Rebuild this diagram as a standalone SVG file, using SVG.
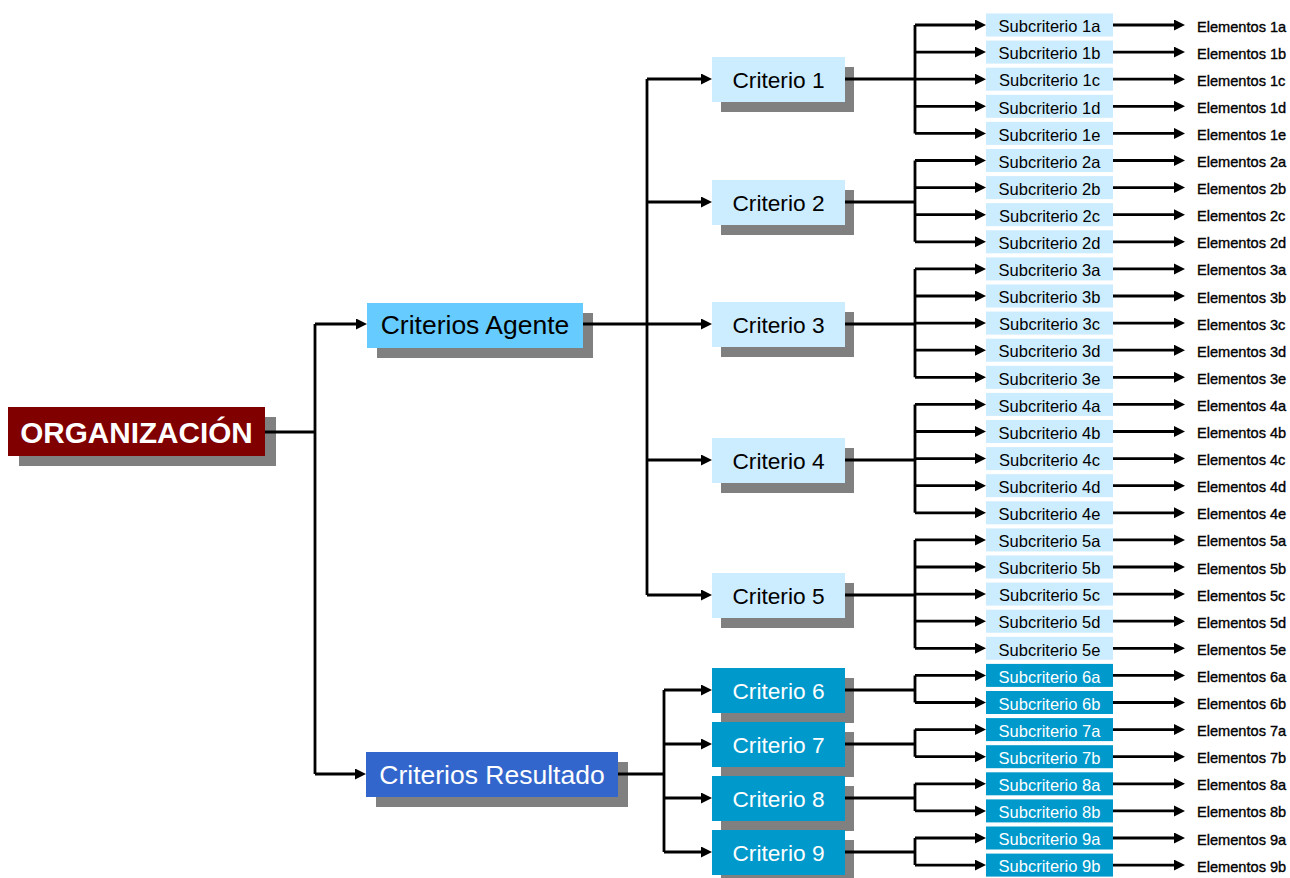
<svg xmlns="http://www.w3.org/2000/svg" width="1290" height="878" viewBox="0 0 1290 878">
<style>
text{font-family:"Liberation Sans",Arial,sans-serif;}
.sh{fill:#808080;}
.c1{fill:#CCECFF;}
.c2{fill:#0099CC;}
.ct{font-size:22.7px;text-anchor:middle;fill:#000;}
.ctw{font-size:22.7px;text-anchor:middle;fill:#fff;}
.st{font-size:16.5px;text-anchor:middle;fill:#000;}
.stw{font-size:16.5px;text-anchor:middle;fill:#fff;}
.et{font-size:14.6px;fill:#000;stroke:#000;stroke-width:0.35;}
.ln{fill:none;stroke:#000;stroke-width:2.8;}
.ar{fill:none;stroke:#000;stroke-width:2.8;marker-end:url(#ah);}
</style>
<defs>
<marker id="ah" markerUnits="userSpaceOnUse" markerWidth="12" markerHeight="12" refX="0" refY="5.5" orient="auto">
<path d="M0,0 L11,5.5 L0,11 Z" fill="#000"/>
</marker>
</defs>
<rect width="1290" height="878" fill="#fff"/>

<g id="organizacion">
<rect class="sh" x="19" y="417" width="257" height="49"/>
<rect x="8" y="407" width="257" height="49" fill="#800000"/>
<text x="136.5" y="442.5" font-size="29.7" font-weight="bold" text-anchor="middle" fill="#fff">ORGANIZACIÓN</text>
</g>
<g id="criterios-agente">
<rect class="sh" x="377" y="313" width="216" height="45"/>
<rect x="367" y="303" width="216" height="45" fill="#66CCFF"/>
<text x="475" y="334" font-size="26.5" text-anchor="middle" fill="#000">Criterios Agente</text>
</g>
<g id="criterios-resultado">
<rect class="sh" x="376" y="762" width="252" height="45"/>
<rect x="366" y="752" width="252" height="45" fill="#3366CC"/>
<text x="492" y="783.5" font-size="26.5" text-anchor="middle" fill="#fff">Criterios Resultado</text>
</g>

<g id="criterio1" transform="translate(0,79)"><rect class="sh" x="721" y="-12" width="133" height="45"/><rect class="c1" x="712" y="-22" width="133" height="45"/><text class="ct" x="778.5" y="8.7">Criterio 1</text></g>
<g id="criterio2" transform="translate(0,202)"><rect class="sh" x="721" y="-12" width="133" height="45"/><rect class="c1" x="712" y="-22" width="133" height="45"/><text class="ct" x="778.5" y="8.7">Criterio 2</text></g>
<g id="criterio3" transform="translate(0,324)"><rect class="sh" x="721" y="-12" width="133" height="45"/><rect class="c1" x="712" y="-22" width="133" height="45"/><text class="ct" x="778.5" y="8.7">Criterio 3</text></g>
<g id="criterio4" transform="translate(0,460)"><rect class="sh" x="721" y="-12" width="133" height="45"/><rect class="c1" x="712" y="-22" width="133" height="45"/><text class="ct" x="778.5" y="8.7">Criterio 4</text></g>
<g id="criterio5" transform="translate(0,595)"><rect class="sh" x="721" y="-12" width="133" height="45"/><rect class="c1" x="712" y="-22" width="133" height="45"/><text class="ct" x="778.5" y="8.7">Criterio 5</text></g>
<g id="criterio6" transform="translate(0,690)"><rect class="sh" x="721" y="-12" width="133" height="45"/><rect class="c2" x="712" y="-22" width="133" height="45"/><text class="ctw" x="778.5" y="8.7">Criterio 6</text></g>
<g id="criterio7" transform="translate(0,744)"><rect class="sh" x="721" y="-12" width="133" height="45"/><rect class="c2" x="712" y="-22" width="133" height="45"/><text class="ctw" x="778.5" y="8.7">Criterio 7</text></g>
<g id="criterio8" transform="translate(0,798)"><rect class="sh" x="721" y="-12" width="133" height="45"/><rect class="c2" x="712" y="-22" width="133" height="45"/><text class="ctw" x="778.5" y="8.7">Criterio 8</text></g>
<g id="criterio9" transform="translate(0,852)"><rect class="sh" x="721" y="-12" width="133" height="45"/><rect class="c2" x="712" y="-22" width="133" height="45"/><text class="ctw" x="778.5" y="8.7">Criterio 9</text></g>

<g id="sub1a" transform="translate(0,25)"><rect class="c1" x="986" y="-11.5" width="127" height="23"/><text class="st" x="1049.5" y="7.2">Subcriterio 1a</text><text class="et" x="1197" y="6.5">Elementos 1a</text></g>
<g id="sub1b" transform="translate(0,52.1)"><rect class="c1" x="986" y="-11.5" width="127" height="23"/><text class="st" x="1049.5" y="7.2">Subcriterio 1b</text><text class="et" x="1197" y="6.5">Elementos 1b</text></g>
<g id="sub1c" transform="translate(0,79.2)"><rect class="c1" x="986" y="-11.5" width="127" height="23"/><text class="st" x="1049.5" y="7.2">Subcriterio 1c</text><text class="et" x="1197" y="6.5">Elementos 1c</text></g>
<g id="sub1d" transform="translate(0,106.3)"><rect class="c1" x="986" y="-11.5" width="127" height="23"/><text class="st" x="1049.5" y="7.2">Subcriterio 1d</text><text class="et" x="1197" y="6.5">Elementos 1d</text></g>
<g id="sub1e" transform="translate(0,133.4)"><rect class="c1" x="986" y="-11.5" width="127" height="23"/><text class="st" x="1049.5" y="7.2">Subcriterio 1e</text><text class="et" x="1197" y="6.5">Elementos 1e</text></g>
<g id="sub2a" transform="translate(0,160.5)"><rect class="c1" x="986" y="-11.5" width="127" height="23"/><text class="st" x="1049.5" y="7.2">Subcriterio 2a</text><text class="et" x="1197" y="6.5">Elementos 2a</text></g>
<g id="sub2b" transform="translate(0,187.6)"><rect class="c1" x="986" y="-11.5" width="127" height="23"/><text class="st" x="1049.5" y="7.2">Subcriterio 2b</text><text class="et" x="1197" y="6.5">Elementos 2b</text></g>
<g id="sub2c" transform="translate(0,214.7)"><rect class="c1" x="986" y="-11.5" width="127" height="23"/><text class="st" x="1049.5" y="7.2">Subcriterio 2c</text><text class="et" x="1197" y="6.5">Elementos 2c</text></g>
<g id="sub2d" transform="translate(0,241.8)"><rect class="c1" x="986" y="-11.5" width="127" height="23"/><text class="st" x="1049.5" y="7.2">Subcriterio 2d</text><text class="et" x="1197" y="6.5">Elementos 2d</text></g>
<g id="sub3a" transform="translate(0,268.9)"><rect class="c1" x="986" y="-11.5" width="127" height="23"/><text class="st" x="1049.5" y="7.2">Subcriterio 3a</text><text class="et" x="1197" y="6.5">Elementos 3a</text></g>
<g id="sub3b" transform="translate(0,296)"><rect class="c1" x="986" y="-11.5" width="127" height="23"/><text class="st" x="1049.5" y="7.2">Subcriterio 3b</text><text class="et" x="1197" y="6.5">Elementos 3b</text></g>
<g id="sub3c" transform="translate(0,323.1)"><rect class="c1" x="986" y="-11.5" width="127" height="23"/><text class="st" x="1049.5" y="7.2">Subcriterio 3c</text><text class="et" x="1197" y="6.5">Elementos 3c</text></g>
<g id="sub3d" transform="translate(0,350.2)"><rect class="c1" x="986" y="-11.5" width="127" height="23"/><text class="st" x="1049.5" y="7.2">Subcriterio 3d</text><text class="et" x="1197" y="6.5">Elementos 3d</text></g>
<g id="sub3e" transform="translate(0,377.3)"><rect class="c1" x="986" y="-11.5" width="127" height="23"/><text class="st" x="1049.5" y="7.2">Subcriterio 3e</text><text class="et" x="1197" y="6.5">Elementos 3e</text></g>
<g id="sub4a" transform="translate(0,404.4)"><rect class="c1" x="986" y="-11.5" width="127" height="23"/><text class="st" x="1049.5" y="7.2">Subcriterio 4a</text><text class="et" x="1197" y="6.5">Elementos 4a</text></g>
<g id="sub4b" transform="translate(0,431.5)"><rect class="c1" x="986" y="-11.5" width="127" height="23"/><text class="st" x="1049.5" y="7.2">Subcriterio 4b</text><text class="et" x="1197" y="6.5">Elementos 4b</text></g>
<g id="sub4c" transform="translate(0,458.6)"><rect class="c1" x="986" y="-11.5" width="127" height="23"/><text class="st" x="1049.5" y="7.2">Subcriterio 4c</text><text class="et" x="1197" y="6.5">Elementos 4c</text></g>
<g id="sub4d" transform="translate(0,485.7)"><rect class="c1" x="986" y="-11.5" width="127" height="23"/><text class="st" x="1049.5" y="7.2">Subcriterio 4d</text><text class="et" x="1197" y="6.5">Elementos 4d</text></g>
<g id="sub4e" transform="translate(0,512.8)"><rect class="c1" x="986" y="-11.5" width="127" height="23"/><text class="st" x="1049.5" y="7.2">Subcriterio 4e</text><text class="et" x="1197" y="6.5">Elementos 4e</text></g>
<g id="sub5a" transform="translate(0,539.9)"><rect class="c1" x="986" y="-11.5" width="127" height="23"/><text class="st" x="1049.5" y="7.2">Subcriterio 5a</text><text class="et" x="1197" y="6.5">Elementos 5a</text></g>
<g id="sub5b" transform="translate(0,567)"><rect class="c1" x="986" y="-11.5" width="127" height="23"/><text class="st" x="1049.5" y="7.2">Subcriterio 5b</text><text class="et" x="1197" y="6.5">Elementos 5b</text></g>
<g id="sub5c" transform="translate(0,594.1)"><rect class="c1" x="986" y="-11.5" width="127" height="23"/><text class="st" x="1049.5" y="7.2">Subcriterio 5c</text><text class="et" x="1197" y="6.5">Elementos 5c</text></g>
<g id="sub5d" transform="translate(0,621.2)"><rect class="c1" x="986" y="-11.5" width="127" height="23"/><text class="st" x="1049.5" y="7.2">Subcriterio 5d</text><text class="et" x="1197" y="6.5">Elementos 5d</text></g>
<g id="sub5e" transform="translate(0,648.3)"><rect class="c1" x="986" y="-11.5" width="127" height="23"/><text class="st" x="1049.5" y="7.2">Subcriterio 5e</text><text class="et" x="1197" y="6.5">Elementos 5e</text></g>
<g id="sub6a" transform="translate(0,675.4)"><rect class="c2" x="986" y="-11.5" width="127" height="23"/><text class="stw" x="1049.5" y="7.2">Subcriterio 6a</text><text class="et" x="1197" y="6.5">Elementos 6a</text></g>
<g id="sub6b" transform="translate(0,702.5)"><rect class="c2" x="986" y="-11.5" width="127" height="23"/><text class="stw" x="1049.5" y="7.2">Subcriterio 6b</text><text class="et" x="1197" y="6.5">Elementos 6b</text></g>
<g id="sub7a" transform="translate(0,729.6)"><rect class="c2" x="986" y="-11.5" width="127" height="23"/><text class="stw" x="1049.5" y="7.2">Subcriterio 7a</text><text class="et" x="1197" y="6.5">Elementos 7a</text></g>
<g id="sub7b" transform="translate(0,756.7)"><rect class="c2" x="986" y="-11.5" width="127" height="23"/><text class="stw" x="1049.5" y="7.2">Subcriterio 7b</text><text class="et" x="1197" y="6.5">Elementos 7b</text></g>
<g id="sub8a" transform="translate(0,783.8)"><rect class="c2" x="986" y="-11.5" width="127" height="23"/><text class="stw" x="1049.5" y="7.2">Subcriterio 8a</text><text class="et" x="1197" y="6.5">Elementos 8a</text></g>
<g id="sub8b" transform="translate(0,810.9)"><rect class="c2" x="986" y="-11.5" width="127" height="23"/><text class="stw" x="1049.5" y="7.2">Subcriterio 8b</text><text class="et" x="1197" y="6.5">Elementos 8b</text></g>
<g id="sub9a" transform="translate(0,838)"><rect class="c2" x="986" y="-11.5" width="127" height="23"/><text class="stw" x="1049.5" y="7.2">Subcriterio 9a</text><text class="et" x="1197" y="6.5">Elementos 9a</text></g>
<g id="sub9b" transform="translate(0,865.1)"><rect class="c2" x="986" y="-11.5" width="127" height="23"/><text class="stw" x="1049.5" y="7.2">Subcriterio 9b</text><text class="et" x="1197" y="6.5">Elementos 9b</text></g>

<g id="connectors">
<path class="ln" d="M265,432 H315 M315,324 V774"/>
<path class="ar" d="M315,324 H356"/>
<path class="ar" d="M315,774 H355"/>
<path class="ln" d="M583,324 H647 M647,79 V595"/>
<path class="ar" d="M647,79 H701"/>
<path class="ar" d="M647,202 H701"/>
<path class="ar" d="M647,324 H701"/>
<path class="ar" d="M647,460 H701"/>
<path class="ar" d="M647,595 H701"/>
<path class="ln" d="M618,774 H664 M664,690 V852"/>
<path class="ar" d="M664,690 H701"/>
<path class="ar" d="M664,744 H701"/>
<path class="ar" d="M664,798 H701"/>
<path class="ar" d="M664,852 H701"/>
<path class="ln" d="M845,79 H915 M915,25 V133.4"/>
<path class="ln" d="M845,202 H915 M915,160.5 V241.8"/>
<path class="ln" d="M845,324 H915 M915,268.9 V377.3"/>
<path class="ln" d="M845,460 H915 M915,404.4 V512.8"/>
<path class="ln" d="M845,595 H915 M915,539.9 V648.3"/>
<path class="ln" d="M845,690 H915 M915,675.4 V702.5"/>
<path class="ln" d="M845,744 H915 M915,729.6 V756.7"/>
<path class="ln" d="M845,798 H915 M915,783.8 V810.9"/>
<path class="ln" d="M845,852 H915 M915,838 V865.1"/>
<g id="sub-arrows">
<path class="ar" d="M915,25 H975"/><path class="ar" d="M915,52.1 H975"/><path class="ar" d="M915,79.2 H975"/><path class="ar" d="M915,106.3 H975"/><path class="ar" d="M915,133.4 H975"/>
<path class="ar" d="M915,160.5 H975"/><path class="ar" d="M915,187.6 H975"/><path class="ar" d="M915,214.7 H975"/><path class="ar" d="M915,241.8 H975"/>
<path class="ar" d="M915,268.9 H975"/><path class="ar" d="M915,296 H975"/><path class="ar" d="M915,323.1 H975"/><path class="ar" d="M915,350.2 H975"/><path class="ar" d="M915,377.3 H975"/>
<path class="ar" d="M915,404.4 H975"/><path class="ar" d="M915,431.5 H975"/><path class="ar" d="M915,458.6 H975"/><path class="ar" d="M915,485.7 H975"/><path class="ar" d="M915,512.8 H975"/>
<path class="ar" d="M915,539.9 H975"/><path class="ar" d="M915,567 H975"/><path class="ar" d="M915,594.1 H975"/><path class="ar" d="M915,621.2 H975"/><path class="ar" d="M915,648.3 H975"/>
<path class="ar" d="M915,675.4 H975"/><path class="ar" d="M915,702.5 H975"/><path class="ar" d="M915,729.6 H975"/><path class="ar" d="M915,756.7 H975"/>
<path class="ar" d="M915,783.8 H975"/><path class="ar" d="M915,810.9 H975"/><path class="ar" d="M915,838 H975"/><path class="ar" d="M915,865.1 H975"/>
</g>
<g id="elem-arrows">
<path class="ar" d="M1113,25 H1174"/><path class="ar" d="M1113,52.1 H1174"/><path class="ar" d="M1113,79.2 H1174"/><path class="ar" d="M1113,106.3 H1174"/><path class="ar" d="M1113,133.4 H1174"/>
<path class="ar" d="M1113,160.5 H1174"/><path class="ar" d="M1113,187.6 H1174"/><path class="ar" d="M1113,214.7 H1174"/><path class="ar" d="M1113,241.8 H1174"/>
<path class="ar" d="M1113,268.9 H1174"/><path class="ar" d="M1113,296 H1174"/><path class="ar" d="M1113,323.1 H1174"/><path class="ar" d="M1113,350.2 H1174"/><path class="ar" d="M1113,377.3 H1174"/>
<path class="ar" d="M1113,404.4 H1174"/><path class="ar" d="M1113,431.5 H1174"/><path class="ar" d="M1113,458.6 H1174"/><path class="ar" d="M1113,485.7 H1174"/><path class="ar" d="M1113,512.8 H1174"/>
<path class="ar" d="M1113,539.9 H1174"/><path class="ar" d="M1113,567 H1174"/><path class="ar" d="M1113,594.1 H1174"/><path class="ar" d="M1113,621.2 H1174"/><path class="ar" d="M1113,648.3 H1174"/>
<path class="ar" d="M1113,675.4 H1174"/><path class="ar" d="M1113,702.5 H1174"/><path class="ar" d="M1113,729.6 H1174"/><path class="ar" d="M1113,756.7 H1174"/>
<path class="ar" d="M1113,783.8 H1174"/><path class="ar" d="M1113,810.9 H1174"/><path class="ar" d="M1113,838 H1174"/><path class="ar" d="M1113,865.1 H1174"/>
</g>
</g>
</svg>
